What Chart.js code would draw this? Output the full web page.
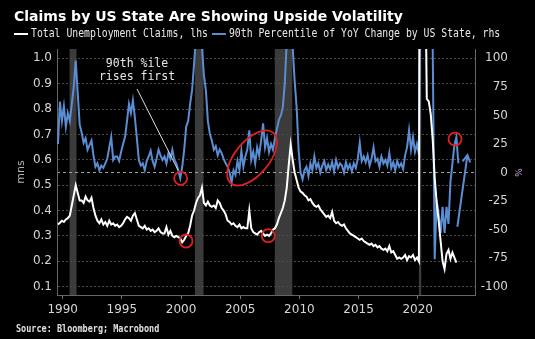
<!DOCTYPE html>
<html><head><meta charset="utf-8">
<script src="https://cdn.jsdelivr.net/npm/chart.js@4.4.0/dist/chart.umd.min.js"></script>
<style>html,body{margin:0;padding:0;background:#000;overflow:hidden}</style>
</head><body>
<canvas id="c" width="535" height="339"></canvas>
<script>
const titleText = 'Claims by US State Are Showing Upside Volatility';
const sourceText = 'Source: Bloomberg; Macrobond';
const seriesNames = ['Total Unemployment Claims, lhs', '90th Percentile of YoY Change by US State, rhs'];
const noteLines = ['90th %ile', 'rises first'];
const leftAxisTitle = 'mns';
const rightAxisTitle = '%';
const xTickYears = [1990, 1995, 2000, 2005, 2010, 2015, 2020];
const leftTicks = [0.1, 0.2, 0.3, 0.4, 0.5, 0.6, 0.7, 0.8, 0.9, 1.0];
const rightTicks = [-100, -75, -50, -25, 0, 25, 50, 75, 100];
const xMin = 1989.518, xMax = 2024.84;
const yMin = 0.0673, yMax = 1.0366;
const y2Min = -107.27, y2Max = 108.13;

// both series sampled every 2 months starting mid-1989
const startYear = 1989.6;
const pointsPerYear = 6;

const claims = [
  0.345, 0.352, 0.36, 0.355, 0.365, 0.37,
  0.38, 0.42, 0.46, 0.50, 0.47, 0.44,
  0.44, 0.43, 0.455, 0.44, 0.435, 0.45,
  0.41, 0.38, 0.36, 0.35, 0.365, 0.345,
  0.355, 0.34, 0.36, 0.345, 0.35, 0.34,
  0.345, 0.335, 0.34, 0.35, 0.365, 0.375,
  0.37, 0.36, 0.38, 0.39, 0.365, 0.34,
  0.335, 0.33, 0.34, 0.325, 0.33, 0.32,
  0.325, 0.315, 0.32, 0.33, 0.315, 0.31,
  0.31, 0.335, 0.305, 0.32, 0.30, 0.295,
  0.30, 0.295, 0.29, 0.275, 0.285, 0.30,
  0.31, 0.34, 0.38, 0.40, 0.43, 0.45,
  0.46, 0.49, 0.43, 0.42, 0.435, 0.42,
  0.415, 0.42, 0.41, 0.44, 0.43, 0.41,
  0.40, 0.385, 0.36, 0.355, 0.345, 0.35,
  0.34, 0.335, 0.345, 0.33, 0.335, 0.33,
  0.33, 0.40, 0.33, 0.315, 0.31, 0.305,
  0.315, 0.32, 0.31, 0.30, 0.305, 0.30,
  0.31, 0.325, 0.33, 0.345, 0.37, 0.39,
  0.41, 0.44, 0.49, 0.58, 0.66, 0.60,
  0.55, 0.52, 0.49, 0.475, 0.47, 0.46,
  0.455, 0.44, 0.445, 0.43, 0.42, 0.415,
  0.42, 0.405, 0.395, 0.385, 0.375, 0.38,
  0.37, 0.395, 0.36, 0.35, 0.355, 0.345,
  0.34, 0.345, 0.33, 0.32, 0.31, 0.305,
  0.30, 0.295, 0.29, 0.285, 0.29, 0.28,
  0.275, 0.27, 0.265, 0.27, 0.26, 0.265,
  0.255, 0.26, 0.25, 0.245, 0.25, 0.24,
  0.26, 0.235, 0.24, 0.225, 0.21, 0.215,
  0.21, 0.215, 0.225, 0.205, 0.22, 0.215,
  0.225, 0.205, 0.215, 0.20, 3.5, 2.0,
  1.5, 0.84, 0.83, 0.78, 0.68, 0.53,
  0.43, 0.36, 0.28, 0.20, 0.17, 0.23,
  0.245, 0.21, 0.235, 0.215, 0.195
];

const pct90 = [
  25, 62, 45, 58, 40, 52,
  45, 60, 75, 98, 70, 42,
  35, 26, 30, 20, 24, 28,
  15, 5, 8, 2, 6, 4,
  8, 12, 22, 31, 11, 14,
  14, 10, 18, 25, 31, 45,
  60, 52, 63, 48, 30, 11,
  6, 8, 2, 10, 14, 19,
  10, 5, 12, 20, 15, 11,
  14, 8, 17, 12, 20, 11,
  8, 2, -5, 5, 20, 40,
  45, 60, 72, 95, 120, 130,
  125, 110, 85, 72, 45, 34,
  28, 20, 23, 15, 20, 17,
  12, 8, 5, 0, -9, 2,
  -2, 10, 2, 19, 5, 14,
  20, 37, 11, 18, 8, 22,
  15, 28, 43, 22, 30, 18,
  25, 20, 30, 38, 46, 50,
  57, 78, 115, 130, 130, 110,
  80, 57, 20, 0, -6, 2,
  5, -3, 8, 2, 14, 4,
  8, 0, 6, 10, 2, 7,
  3, 9, 1, 11, 4, 8,
  6, 0, 9, 3, 7, 1,
  8, 4, 12, 26, 10, 14,
  9, 15, 6, 12, 22, 10,
  12, 5, 14, 8, 11, 6,
  17, 4, 9, 2, 10, 5,
  8, 3, 15, 22, 37, 20,
  31, 18, 25, 16, 300, 250,
  200, 180, 150, 120, 110, -76,
  -24, -36, -53, -30, -53, -30,
  -45, -8, 8, 24, 31, 8
];

const recessions = [[1990.58, 1991.17], [2001.17, 2001.9], [2007.92, 2009.4], [2020.1, 2020.3]];

// annotation anchors in data units (year, left value 'y' or right value 'y2')
const circles = [
  {year: 1999.97, value: -5.1, axis: 'y2'},
  {year: 2000.42, value: 0.280, axis: 'y'},
  {year: 2007.37, value: 0.301, axis: 'y'},
  {year: 2023.15, value: 29.3, axis: 'y2'}
];
const ellipse = {year: 2006.0, value: 12.7, axis: 'y2'};
const pointer = {from: {year: 1996.28, value: 73.1}, to: {year: 1999.74, value: 2.2}};
const noteAnchor = {year: 1996.28, values: [95, 83.6]};
const arrow = {from: {year: 2023.35, value: -47.5}, to: {year: 2024.2, value: 15.3}};

const toPoints = vals => vals.map((v, i) => ({x: startYear + i / pointsPerYear, y: v}));

const tickFont = {family: 'DejaVu Sans', size: 12};
const tickColor = '#d6d6d6';
const blue = '#5b8dd3';
const red = '#e0201e';

const drawPlugin = {
  id: 'drawPlugin',
  beforeDraw(chart) {
    const {ctx, chartArea: a, scales} = chart;
    ctx.save();
    ctx.fillStyle = '#000';
    ctx.fillRect(0, 0, chart.width, chart.height);
    ctx.fillStyle = '#3b3b3b';
    recessions.forEach(([s, e]) => {
      const x1 = scales.x.getPixelForValue(s), x2 = scales.x.getPixelForValue(e);
      ctx.fillRect(x1, a.top, Math.max(x2 - x1, 1.5), a.bottom - a.top);
    });
    ctx.restore();
  },
  afterDatasetsDraw(chart) {
    const {ctx, scales} = chart;
    const px = y => scales.x.getPixelForValue(y);
    const py = (v, ax) => scales[ax].getPixelForValue(v);
    ctx.save();
    // pointer line + note
    ctx.strokeStyle = '#dcdcdc';
    ctx.lineWidth = 1;
    ctx.beginPath();
    ctx.moveTo(px(pointer.from.year), py(pointer.from.value, 'y2'));
    ctx.lineTo(px(pointer.to.year), py(pointer.to.value, 'y2'));
    ctx.stroke();
    ctx.fillStyle = '#e6e6e6';
    ctx.font = '11.5px "DejaVu Sans Mono"';
    ctx.textAlign = 'center';
    ctx.textBaseline = 'middle';
    noteLines.forEach((t, i) => ctx.fillText(t, px(noteAnchor.year), py(noteAnchor.values[i], 'y2')));
    // red circles
    ctx.strokeStyle = red;
    ctx.lineWidth = 1.8;
    circles.forEach(c => {
      ctx.beginPath();
      ctx.arc(px(c.year), py(c.value, c.axis), 6.5, 0, Math.PI * 2);
      ctx.stroke();
    });
    ctx.beginPath();
    ctx.ellipse(px(ellipse.year), py(ellipse.value, ellipse.axis), 33, 17, -50 * Math.PI / 180, 0, Math.PI * 2);
    ctx.stroke();
    // blue arrow
    const x1 = px(arrow.from.year), y1 = py(arrow.from.value, 'y2');
    const x2 = px(arrow.to.year), y2 = py(arrow.to.value, 'y2');
    ctx.strokeStyle = blue;
    ctx.lineWidth = 2;
    ctx.beginPath();
    ctx.moveTo(x1, y1); ctx.lineTo(x2, y2);
    const ang = Math.atan2(y2 - y1, x2 - x1);
    ctx.moveTo(x2 - 8 * Math.cos(ang - 0.5), y2 - 8 * Math.sin(ang - 0.5));
    ctx.lineTo(x2, y2);
    ctx.lineTo(x2 - 8 * Math.cos(ang + 0.5), y2 - 8 * Math.sin(ang + 0.5));
    ctx.stroke();
    ctx.restore();
  },
  afterDraw(chart) {
    const {ctx, scales} = chart;
    ctx.save();
    ctx.textAlign = 'left';
    ctx.textBaseline = 'alphabetic';
    ctx.fillStyle = '#ffffff';
    ctx.font = 'bold 14px "DejaVu Sans"';
    ctx.fillText(titleText, 14, 21);
    // legend
    ctx.font = '9.8px "DejaVu Sans Mono"';
    ctx.textBaseline = 'middle';
    let x = 14; const y = 34;
    chart.data.datasets.forEach(ds => {
      ctx.strokeStyle = ds.borderColor;
      ctx.lineWidth = 2;
      ctx.beginPath(); ctx.moveTo(x, y); ctx.lineTo(x + 14, y); ctx.stroke();
      x += 17;
      ctx.fillStyle = '#e8e8e8';
      ctx.save();
      ctx.translate(x, y);
      ctx.scale(1, 1.17);
      ctx.fillText(ds.label, 0, 0);
      ctx.restore();
      x += ctx.measureText(ds.label).width + 4;
    });
    // right-axis tick labels, right-aligned beside the axis, from the y2 scale
    const r = scales.y2;
    ctx.font = '12px "DejaVu Sans"';
    ctx.textAlign = 'right';
    ctx.fillStyle = tickColor;
    r.ticks.forEach(t => ctx.fillText(String(t.value), r.left + 33, r.getPixelForValue(t.value)));
    // right-axis unit, rotated, beside the zero tick
    ctx.save();
    ctx.translate(r.left + 42, r.getPixelForValue(0));
    ctx.rotate(Math.PI / 2);
    ctx.textAlign = 'center';
    ctx.fillStyle = '#c8a8e0';
    ctx.font = '9px "DejaVu Sans"';
    ctx.fillText(rightAxisTitle, 0, 0);
    ctx.restore();
    // source
    ctx.textAlign = 'left';
    ctx.font = 'bold 8.5px "DejaVu Sans Mono"';
    ctx.fillStyle = '#e0e0e0';
    ctx.save();
    ctx.translate(16, 329.5);
    ctx.scale(1, 1.15);
    ctx.fillText(sourceText, 0, 0);
    ctx.restore();
    ctx.restore();
  }
};

new Chart(document.getElementById('c'), {
  type: 'line',
  data: {
    datasets: [
      {label: seriesNames[0], data: toPoints(claims), yAxisID: 'y', borderColor: '#ffffff', borderWidth: 2, pointRadius: 0, tension: 0},
      {label: seriesNames[1], data: toPoints(pct90), yAxisID: 'y2', borderColor: blue, borderWidth: 2, pointRadius: 0, tension: 0}
    ]
  },
  options: {
    responsive: false,
    animation: false,
    devicePixelRatio: 1,
    layout: {padding: {top: 49, bottom: 14, left: 0, right: 0}},
    plugins: {legend: {display: false}, title: {display: false}, tooltip: {enabled: false}},
    scales: {
      x: {
        type: 'linear', min: xMin, max: xMax,
        afterBuildTicks: s => { s.ticks = xTickYears.map(v => ({value: v})); },
        ticks: {color: tickColor, font: tickFont, padding: 4, maxRotation: 0, autoSkip: false, callback: v => String(v)},
        grid: {drawOnChartArea: false, drawTicks: true, tickLength: 4, color: '#777'},
        border: {display: true, color: '#666'},
        afterFit: s => { s.height = 30; }
      },
      y: {
        position: 'left', min: yMin, max: yMax,
        afterBuildTicks: s => { s.ticks = leftTicks.map(v => ({value: v})); },
        ticks: {color: tickColor, font: tickFont, padding: 5, callback: v => v.toFixed(1)},
        grid: {color: '#4a4a4a', drawTicks: false, lineWidth: 1},
        border: {display: true, color: '#666', dash: [2, 2]},
        title: {display: true, text: leftAxisTitle, color: '#b4b4b4', font: {family: 'DejaVu Sans', size: 11}, padding: {top: 15, bottom: 0}},
        afterFit: s => { s.width = 57; }
      },
      y2: {
        position: 'right', min: y2Min, max: y2Max,
        afterBuildTicks: s => { s.ticks = rightTicks.map(v => ({value: v})); },
        ticks: {display: false},
        grid: {drawOnChartArea: true, drawTicks: false, lineWidth: 1, color: c => (c.tick && c.tick.value === 0) ? '#a0a0a0' : 'rgba(0,0,0,0)'},
        border: {display: true, color: '#666', dash: [3, 3]},
        afterFit: s => { s.width = 60; }
      }
    }
  },
  plugins: [drawPlugin]
});
</script>
</body></html>
